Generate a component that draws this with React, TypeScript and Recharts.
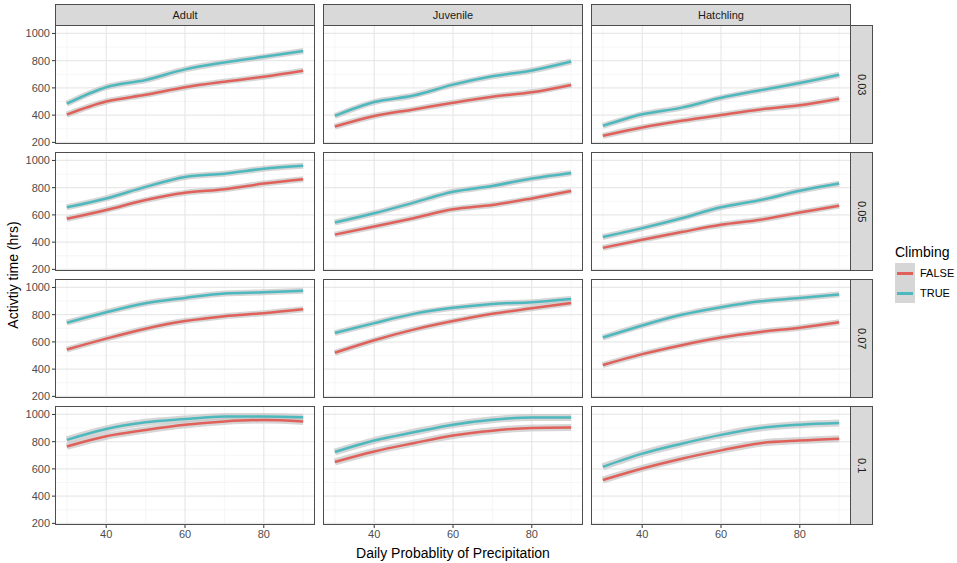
import { LineChart, Line, XAxis, YAxis, CartesianGrid } from "recharts";

// x values (daily probability of precipitation)
const precip = [30, 40, 50, 60, 70, 80, 90];
const stages = ["Adult", "Juvenile", "Hatchling"];
const rates = ["0.03", "0.05", "0.07", "0.1"];
const yTicks = [200, 400, 600, 800, 1000];
const xTicks = [40, 60, 80];

// Adult
const adult003True = [484, 605, 658, 736, 787, 828, 871];
const adult003False = [404, 500, 549, 605, 646, 682, 726];
const adult005True = [656, 721, 806, 879, 903, 939, 961];
const adult005False = [571, 636, 709, 762, 789, 830, 862];
const adult007True = [741, 818, 884, 923, 956, 964, 976];
const adult007False = [544, 624, 697, 753, 789, 811, 840];
const adult01True = [813, 893, 942, 966, 985, 985, 980];
const adult01False = [765, 840, 886, 925, 949, 959, 949];

// Juvenile
const juv003True = [394, 496, 544, 624, 685, 728, 794];
const juv003False = [316, 394, 442, 491, 535, 568, 622];
const juv005True = [544, 612, 690, 770, 813, 867, 908];
const juv005False = [455, 515, 576, 641, 673, 721, 775];
const juv007True = [665, 738, 806, 850, 879, 891, 915];
const juv007False = [520, 612, 690, 753, 806, 847, 886];
const juv01True = [724, 808, 869, 925, 961, 978, 978];
const juv01False = [651, 728, 789, 845, 881, 901, 905];

// Hatchling
const hatch003True = [321, 406, 455, 527, 583, 636, 697];
const hatch003False = [248, 309, 358, 401, 442, 472, 520];
const hatch005True = [438, 503, 576, 656, 709, 777, 830];
const hatch005False = [358, 418, 474, 527, 564, 617, 668];
const hatch007True = [632, 721, 799, 855, 898, 922, 949];
const hatch007False = [430, 510, 576, 632, 673, 704, 745];
const hatch01True = [615, 712, 785, 850, 901, 925, 937];
const hatch01False = [518, 603, 675, 736, 789, 808, 821];

// [row][col] -> [FALSE, TRUE]
const panels = [
  [[adult003False, adult003True], [juv003False, juv003True], [hatch003False, hatch003True]],
  [[adult005False, adult005True], [juv005False, juv005True], [hatch005False, hatch005True]],
  [[adult007False, adult007True], [juv007False, juv007True], [hatch007False, hatch007True]],
  [[adult01False, adult01True], [juv01False, juv01True], [hatch01False, hatch01True]],
];

const RED = "#E0605A";
const TEAL = "#4DB8BD";
const BAND = "#c4c4c4";
const FONT = '"Liberation Sans", Arial, sans-serif';

const W = 260;
const H = 119;
const colLeft = [55, 323, 591];
const rowTop = [25, 152, 279, 406];

function Panel({ row, col }: { row: number; col: number }) {
  const showY = col === 0;
  const showX = row === rates.length - 1;
  const yw = showY ? 40 : 0;
  const xh = showX ? 24 : 0;
  const [f, t] = panels[row][col];
  const data = precip.map((p, i) => ({ p, f: f[i], t: t[i] }));
  const band = row === 3 ? 7 : 6;

  return (
    <div style={{ position: "absolute", left: colLeft[col] - yw, top: rowTop[row] }}>
      <LineChart width={W + yw} height={H + xh} data={data} margin={{ top: 0, right: 0, bottom: 0, left: 0 }}>
        <CartesianGrid
          horizontalValues={[300, 500, 700, 900]}
          verticalValues={[30, 50, 70, 90]}
          stroke="#f2f2f2"
          strokeWidth={0.7}
        />
        <CartesianGrid horizontalValues={yTicks} verticalValues={xTicks} stroke="#e8e8e8" strokeWidth={1.2} />
        <XAxis
          dataKey="p"
          type="number"
          domain={[27, 93]}
          ticks={xTicks}
          interval={0}
          allowDataOverflow
          hide={!showX}
          height={xh}
          axisLine={false}
          tickSize={3}
          tickMargin={2}
          tickLine={{ stroke: "#333" }}
          tick={{ fontSize: 11, fill: "#4d4d4d", fontFamily: FONT }}
        />
        <YAxis
          type="number"
          domain={[188, 1062]}
          ticks={yTicks}
          interval={0}
          allowDataOverflow
          hide={!showY}
          width={yw}
          axisLine={false}
          tickSize={3}
          tickMargin={2}
          tickLine={{ stroke: "#333" }}
          tick={{ fontSize: 11, fill: "#4d4d4d", fontFamily: FONT }}
        />
        <Line dataKey="f" type="monotone" stroke={BAND} strokeOpacity={0.7} strokeWidth={band} dot={false} isAnimationActive={false} />
        <Line dataKey="t" type="monotone" stroke={BAND} strokeOpacity={0.7} strokeWidth={band} dot={false} isAnimationActive={false} />
        <Line dataKey="f" type="monotone" stroke={RED} strokeWidth={2.5} dot={false} isAnimationActive={false} />
        <Line dataKey="t" type="monotone" stroke={TEAL} strokeWidth={2.5} dot={false} isAnimationActive={false} />
      </LineChart>
      <div
        style={{
          position: "absolute",
          left: yw,
          top: 0,
          width: W,
          height: H,
          border: "1px solid #4d4d4d",
          boxSizing: "border-box",
          pointerEvents: "none",
        }}
      />
    </div>
  );
}

const stripStyle: React.CSSProperties = {
  position: "absolute",
  background: "#d9d9d9",
  border: "1px solid #4d4d4d",
  boxSizing: "border-box",
  display: "flex",
  alignItems: "center",
  justifyContent: "center",
  fontSize: 11,
  color: "#1a1a1a",
};

export default function App() {
  return (
    <div
      style={{
        position: "absolute",
        left: 0,
        top: 0,
        width: 957,
        height: 563,
        background: "#fff",
        fontFamily: FONT,
        overflow: "hidden",
      }}
    >
      <style>{".recharts-surface { overflow: visible; } .recharts-wrapper { overflow: visible; }"}</style>
      {stages.map((s, c) => (
        <div key={s} style={{ ...stripStyle, left: colLeft[c], top: 4, width: W, height: 22 }}>
          {s}
        </div>
      ))}
      {rates.map((r, i) => (
        <div
          key={r}
          style={{ ...stripStyle, left: colLeft[2] + W - 1, top: rowTop[i], width: 23, height: H }}
        >
          <span style={{ writingMode: "vertical-rl" }}>{r}</span>
        </div>
      ))}
      {rates.map((r, row) => stages.map((s, col) => <Panel key={r + s} row={row} col={col} />))}

      <div
        style={{
          position: "absolute",
          left: 13,
          top: 275,
          transform: "translate(-50%, -50%) rotate(-90deg)",
          whiteSpace: "nowrap",
          fontSize: 14,
          color: "#000",
        }}
      >
        Activtiy time (hrs)
      </div>
      <div
        style={{
          position: "absolute",
          left: 453,
          top: 553,
          transform: "translate(-50%, -50%)",
          whiteSpace: "nowrap",
          fontSize: 14,
          color: "#000",
        }}
      >
        Daily Probablity of Precipitation
      </div>

      <div style={{ position: "absolute", left: 895, top: 244, fontSize: 14, color: "#000" }}>Climbing</div>
      {[
        { label: "FALSE", color: RED },
        { label: "TRUE", color: TEAL },
      ].map((k, i) => (
        <div key={k.label} style={{ position: "absolute", left: 895, top: 263 + i * 20, height: 20, display: "flex", alignItems: "center" }}>
          <div style={{ width: 20, height: 20, background: "#d6d6d6", position: "relative" }}>
            <div style={{ position: "absolute", left: 2, right: 2, top: 9, height: 2.5, background: k.color }} />
          </div>
          <span style={{ marginLeft: 5, fontSize: 11, color: "#000" }}>{k.label}</span>
        </div>
      ))}
    </div>
  );
}
